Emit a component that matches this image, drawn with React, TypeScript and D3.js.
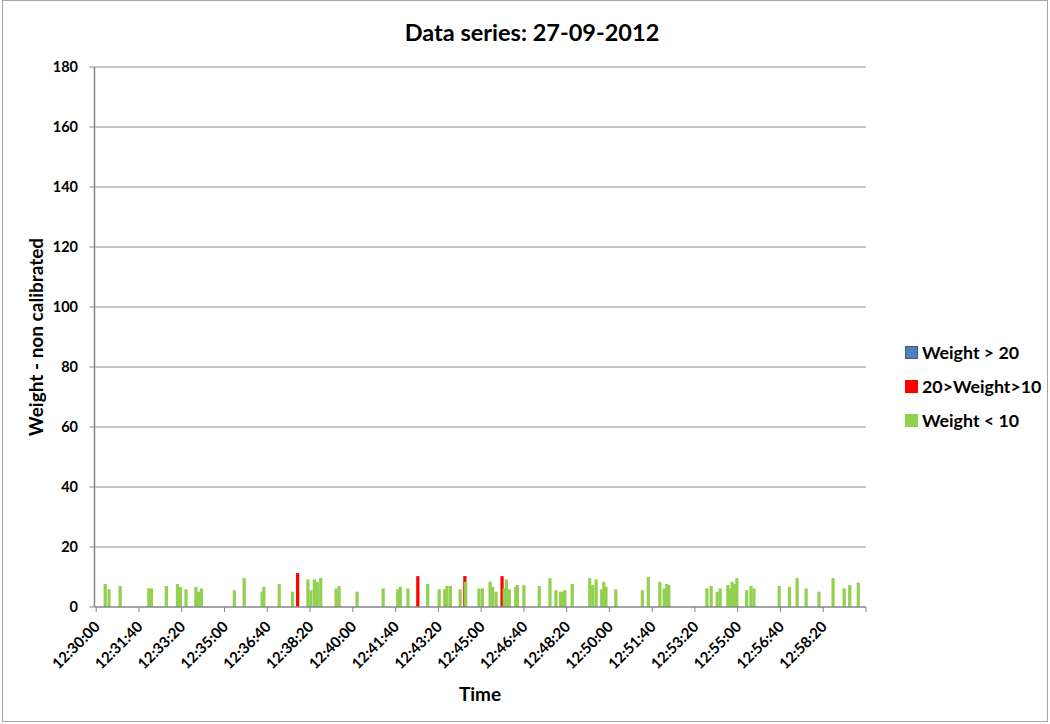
import React from "react";
import * as d3 from "d3";

// Readings per series: [time, weight]
const heavy: [string, number][] = []; // Weight > 20 (none recorded this day)

const medium: [string, number][] = [
  ["12:37:51", 11.3],
  ["12:42:32", 10.3],
  ["12:44:22", 10.3],
  ["12:45:49", 10.3],
];

const light: [string, number][] = [
  ["12:30:21", 7.7], ["12:30:30", 5.9], ["12:30:56", 7.0], ["12:32:03", 6.2],
  ["12:32:09", 6.2], ["12:32:44", 7.0], ["12:33:10", 7.7], ["12:33:17", 6.7],
  ["12:33:30", 5.9], ["12:33:53", 6.7], ["12:33:59", 5.1], ["12:34:06", 6.2],
  ["12:35:23", 5.6], ["12:35:46", 9.6], ["12:36:28", 5.1], ["12:36:32", 6.7],
  ["12:37:08", 7.7], ["12:37:39", 5.1], ["12:38:15", 9.2], ["12:38:22", 5.6],
  ["12:38:30", 9.2], ["12:38:37", 8.4], ["12:38:45", 9.7], ["12:39:21", 6.2],
  ["12:39:28", 7.0], ["12:40:10", 5.1], ["12:41:11", 6.2], ["12:41:45", 5.9],
  ["12:41:51", 6.7], ["12:42:09", 6.2], ["12:42:55", 7.7], ["12:43:22", 5.9],
  ["12:43:35", 5.9], ["12:43:40", 7.0], ["12:43:48", 7.0], ["12:44:11", 5.9],
  ["12:44:24", 8.4], ["12:44:55", 6.2], ["12:45:03", 6.2], ["12:45:21", 8.4],
  ["12:45:27", 6.7], ["12:45:35", 5.1], ["12:45:54", 6.2], ["12:45:59", 9.2],
  ["12:46:06", 5.9], ["12:46:21", 6.7], ["12:46:25", 7.3], ["12:46:40", 7.3],
  ["12:47:16", 7.0], ["12:47:41", 9.6], ["12:47:55", 5.6], ["12:48:06", 5.1],
  ["12:48:11", 5.1], ["12:48:16", 5.6], ["12:48:33", 7.7], ["12:49:14", 9.6],
  ["12:49:21", 7.3], ["12:49:29", 9.2], ["12:49:42", 5.9], ["12:49:47", 8.4],
  ["12:49:52", 6.7], ["12:50:15", 5.9], ["12:51:17", 5.6], ["12:51:31", 10.0],
  ["12:51:58", 8.4], ["12:52:08", 6.2], ["12:52:14", 7.7], ["12:52:19", 7.3],
  ["12:53:48", 6.2], ["12:53:58", 7.0], ["12:54:12", 5.1], ["12:54:19", 6.2],
  ["12:54:37", 7.3], ["12:54:42", 6.2], ["12:54:47", 8.4], ["12:54:53", 7.7],
  ["12:54:58", 9.6], ["12:55:21", 5.6], ["12:55:31", 7.0], ["12:55:38", 6.2],
  ["12:56:37", 7.0], ["12:57:01", 6.7], ["12:57:19", 9.6], ["12:57:40", 6.2],
  ["12:58:10", 5.1], ["12:58:43", 9.6], ["12:59:09", 6.2], ["12:59:22", 7.3],
  ["12:59:42", 8.1],
];

const series = [
  { name: "Weight > 20", color: "#4F81BD", stroke: "#385D8A", data: heavy },
  { name: "20>Weight>10", color: "#FF0000", stroke: "none", data: medium },
  { name: "Weight < 10", color: "#92D050", stroke: "none", data: light },
];

const yTicks = [0, 20, 40, 60, 80, 100, 120, 140, 160, 180];
const xTickLabels = [
  "12:30:00", "12:31:40", "12:33:20", "12:35:00", "12:36:40", "12:38:20",
  "12:40:00", "12:41:40", "12:43:20", "12:45:00", "12:46:40", "12:48:20",
  "12:50:00", "12:51:40", "12:53:20", "12:55:00", "12:56:40", "12:58:20",
];
const axisEnd = "13:00:00";

const FONT = "Lato, 'Open Sans', sans-serif";

const toSec = (s: string) => {
  const [h, m, sec] = s.split(":").map(Number);
  return h * 3600 + m * 60 + sec;
};
const t0 = toSec("12:30:00");

export default function App() {
  const W = 1050;
  const H = 724;
  const plot = { left: 94.5, right: 866, top: 67, bottom: 607 };

  const x = d3
    .scaleLinear()
    .domain([-4, toSec(axisEnd) - t0])
    .range([plot.left, plot.right]);
  const y = d3.scaleLinear().domain([0, 180]).range([plot.bottom, plot.top]);
  const barW = 3.2;

  const tickSecs = [...xTickLabels.map((l) => toSec(l) - t0), toSec(axisEnd) - t0];

  return (
    <svg
      width={W}
      height={H}
      style={{ position: "absolute", left: 0, top: 0, background: "#fff" }}
      fontFamily={FONT}
    >
      <rect x={2.5} y={0.5} width={1045} height={721} fill="#fff" stroke="#a6a6a6" />

      <text x={532} y={41} textAnchor="middle" fontSize={23.5} fontWeight="bold">
        Data series: 27-09-2012
      </text>

      {/* horizontal gridlines */}
      {yTicks.slice(1).map((v) => (
        <line key={v} x1={plot.left} x2={plot.right} y1={y(v)} y2={y(v)} stroke="#8c8c8c" strokeWidth={1} />
      ))}

      {/* y axis */}
      <line x1={plot.left} x2={plot.left} y1={plot.top} y2={plot.bottom} stroke="#868686" strokeWidth={1.5} />
      {yTicks.map((v) => (
        <g key={v}>
          <line x1={plot.left - 5} x2={plot.left} y1={y(v)} y2={y(v)} stroke="#868686" />
          <text x={78} y={y(v)} dy="0.35em" textAnchor="end" fontSize={14.5} fontWeight="bold">
            {v}
          </text>
        </g>
      ))}

      {/* bars */}
      {series.map((s) =>
        s.data.map(([t, v], i) => (
          <rect
            key={s.name + i}
            x={x(toSec(t) - t0) - barW / 2}
            y={y(v)}
            width={barW}
            height={y(0) - y(v)}
            fill={s.color}
          />
        ))
      )}

      {/* x axis */}
      <line x1={plot.left} x2={plot.right} y1={plot.bottom} y2={plot.bottom} stroke="#868686" strokeWidth={1.5} />
      {tickSecs.map((s) => (
        <line key={s} x1={x(s)} x2={x(s)} y1={plot.bottom} y2={plot.bottom + 5} stroke="#868686" />
      ))}
      {xTickLabels.map((l) => {
        const px = x(toSec(l) - t0) + 1;
        const py = plot.bottom + 17;
        return (
          <text
            key={l}
            transform={`translate(${px},${py}) rotate(-45)`}
            textAnchor="end"
            dy="0.35em"
            fontSize={15}
            fontWeight="bold"
          >
            {l}
          </text>
        );
      })}

      <text x={480} y={701} textAnchor="middle" fontSize={19} fontWeight="bold">
        Time
      </text>
      <text
        transform={`translate(43,${(plot.top + plot.bottom) / 2}) rotate(-90)`}
        textAnchor="middle"
        fontSize={19}
        fontWeight="bold"
      >
        Weight - non calibrated
      </text>

      {/* legend */}
      {series.map((s, i) => {
        const ly = 353 + i * 34;
        return (
          <g key={s.name}>
            <rect
              x={905.5}
              y={ly - 6.5}
              width={12}
              height={12}
              fill={s.color}
              stroke={s.stroke === "none" ? s.color : s.stroke}
            />
            <text x={922} y={ly} dy="0.35em" fontSize={17.8} fontWeight="bold">
              {s.name}
            </text>
          </g>
        );
      })}
    </svg>
  );
}
